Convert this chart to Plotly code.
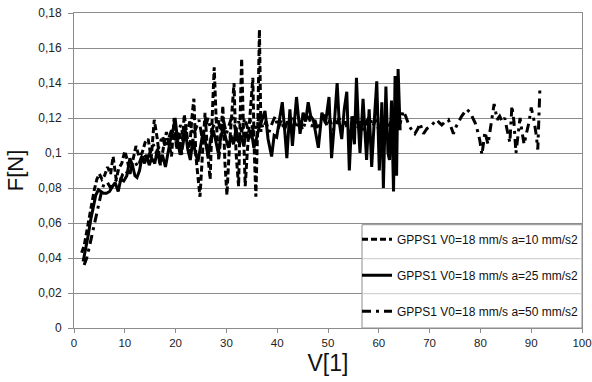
import plotly.graph_objects as go

# ---- data ----
x_a10 = [1.5, 2.0, 2.5, 3.0, 3.5, 4.0, 4.5, 5.0, 5.5, 6.0, 6.6, 7.2, 7.7, 8.3, 8.8, 9.4, 10.0, 10.5, 11.0, 11.6,
         12.2, 12.8, 13.4, 14.0, 14.6, 15.2, 15.8, 16.4, 17.0, 17.6, 18.2, 18.7, 19.2, 19.7, 20.2, 20.7, 21.2, 21.7,
         22.2, 22.7, 23.2, 23.6, 24.0, 24.4, 24.8, 25.3, 25.8, 26.3, 26.8, 27.2, 27.6, 28.0, 28.5, 28.9, 29.3, 29.7,
         30.1, 30.6, 31.0, 31.5, 31.9, 32.4, 32.7, 33.0, 33.4, 33.7, 34.1, 34.5, 34.8, 35.2, 35.5, 35.8, 36.2, 36.5, 36.8]
y_a10 = [0.043, 0.047, 0.055, 0.063, 0.072, 0.079, 0.085, 0.088, 0.085, 0.087, 0.092, 0.088, 0.098, 0.085, 0.091,
         0.094, 0.101, 0.096, 0.088, 0.097, 0.104, 0.098, 0.100, 0.106, 0.108, 0.097, 0.119, 0.108, 0.093, 0.103,
         0.112, 0.105, 0.098, 0.120, 0.102, 0.112, 0.099, 0.122, 0.110, 0.100, 0.120, 0.131, 0.098, 0.085, 0.075,
         0.100, 0.123, 0.100, 0.085, 0.120, 0.149, 0.118, 0.096, 0.110, 0.127, 0.095, 0.076, 0.104, 0.118, 0.140,
         0.100, 0.081, 0.120, 0.154, 0.110, 0.081, 0.100, 0.118, 0.125, 0.143, 0.100, 0.075, 0.120, 0.1705, 0.112]

x_a25 = [1.8, 2.3, 2.8, 3.3, 3.8, 4.3, 4.8, 5.3, 5.8, 6.4, 7.0, 7.6, 8.1, 8.7, 9.2, 9.8, 10.4, 11.0, 11.5, 12.0,
         12.4, 12.9, 13.4, 13.9, 14.3, 14.8, 15.3, 15.9, 16.4, 16.9, 17.4, 18.0, 18.5, 19.0, 19.5, 19.9, 20.4, 20.9,
         21.4, 21.9, 22.4, 22.9, 23.4, 23.9, 24.4, 24.9, 25.4, 25.9, 26.4, 26.9, 27.4, 27.9, 28.4, 28.9, 29.4, 29.9,
         30.4, 30.9, 31.4, 31.9, 32.4, 32.9, 33.4, 33.9, 34.4, 34.9, 35.4, 35.9, 36.4, 36.9, 37.3, 37.6, 38.2, 38.9,
         39.4, 39.9, 40.5, 41.0, 41.5, 41.9, 42.5, 43.0, 43.4, 43.8, 44.2, 44.5, 45.1, 45.6, 46.1, 46.6, 47.1, 47.6,
         48.1, 48.8, 49.5, 50.2, 50.7, 51.2, 51.8, 52.2, 52.7, 53.2, 53.7, 54.2, 54.7, 55.2, 55.6, 56.0, 56.3, 56.9,
         57.3, 57.6, 58.1, 58.6, 59.1, 59.6, 60.1, 60.6, 60.9, 61.4, 61.8, 62.1, 62.5, 62.9, 63.2, 63.5, 63.8, 64.2]
y_a25 = [0.038, 0.045, 0.053, 0.062, 0.070, 0.076, 0.079, 0.078, 0.077, 0.077, 0.078, 0.081, 0.083, 0.078, 0.085,
         0.084, 0.087, 0.097, 0.093, 0.087, 0.086, 0.090, 0.098, 0.094, 0.099, 0.093, 0.097, 0.094, 0.102, 0.094,
         0.099, 0.092, 0.100, 0.108, 0.113, 0.120, 0.107, 0.099, 0.104, 0.113, 0.102, 0.096, 0.108, 0.100, 0.095,
         0.104, 0.112, 0.106, 0.098, 0.108, 0.113, 0.107, 0.100, 0.109, 0.115, 0.108, 0.103, 0.110, 0.105, 0.114,
         0.106, 0.110, 0.104, 0.112, 0.108, 0.113, 0.103, 0.108, 0.114, 0.118, 0.121, 0.124, 0.108, 0.098, 0.110,
         0.109, 0.120, 0.129, 0.112, 0.097, 0.125, 0.104, 0.118, 0.132, 0.120, 0.111, 0.123, 0.118, 0.129, 0.121,
         0.119, 0.112, 0.103, 0.123, 0.117, 0.132, 0.097, 0.115, 0.140, 0.118, 0.108, 0.125, 0.135, 0.090, 0.121,
         0.105, 0.143, 0.115, 0.100, 0.131, 0.112, 0.096, 0.125, 0.092, 0.118, 0.141, 0.090, 0.129, 0.080, 0.138,
         0.100, 0.096, 0.130, 0.078, 0.144, 0.087, 0.148, 0.113]

x_a50 = [2.0, 2.5, 3.0, 3.5, 4.0, 4.5, 5.0, 5.5, 6.0, 6.6, 7.2, 7.8, 8.4, 9.0, 9.6, 10.2, 10.8, 11.4, 12.0, 12.6,
         13.2, 13.8, 14.4, 15.0, 15.6, 16.2, 16.8, 17.4, 18.0, 18.6, 19.2, 19.8, 20.4, 21.0, 21.6, 22.2, 22.8, 23.4,
         24.0, 24.6, 25.2, 25.8, 26.4, 27.0, 27.6, 28.2, 28.8, 29.4, 30.0, 30.6, 31.2, 31.8, 32.4, 33.0, 33.6, 34.2,
         34.8, 35.4, 36.0, 36.6, 37.2, 37.8, 38.4, 39.0, 39.6, 40.2, 40.8, 41.4, 42.0, 42.6, 43.2, 43.8, 44.4, 45.0,
         45.6, 46.2, 46.8, 47.4, 48.0, 48.6, 49.2, 49.8, 50.4, 51.0, 51.6, 52.2, 52.8, 53.4, 54.0, 54.6, 55.2, 55.8,
         56.4, 57.0, 57.6, 58.2, 58.8, 59.4, 60.0, 60.6, 61.2, 61.8, 62.4, 63.0, 63.6, 64.2, 64.8, 65.3, 65.9, 66.5,
         67.1, 67.7, 68.1, 68.8, 69.5, 70.1, 70.8, 71.4, 72.0, 72.4, 73.1, 73.7, 74.2, 74.7, 75.2, 75.7, 76.3, 76.8,
         77.3, 78.0, 78.5, 79.0, 79.5, 79.9, 80.3, 80.9, 81.5, 81.9, 82.3, 82.7, 83.3, 83.8, 84.3, 84.8, 85.2, 85.8,
         86.2, 86.6, 87.0, 87.4, 87.8, 88.2, 88.6, 89.2, 89.6, 90.0, 90.6, 91.0, 91.3, 91.7]
y_a50 = [0.036, 0.040, 0.046, 0.053, 0.060, 0.067, 0.074, 0.079, 0.083, 0.083, 0.080, 0.082, 0.085, 0.083, 0.088,
         0.090, 0.087, 0.092, 0.095, 0.092, 0.097, 0.100, 0.096, 0.101, 0.105, 0.100, 0.104, 0.110, 0.103, 0.108,
         0.113, 0.106, 0.111, 0.116, 0.108, 0.112, 0.118, 0.110, 0.114, 0.119, 0.109, 0.115, 0.120, 0.112, 0.116,
         0.121, 0.113, 0.119, 0.111, 0.117, 0.122, 0.113, 0.118, 0.112, 0.120, 0.114, 0.119, 0.111, 0.117, 0.121,
         0.114, 0.118, 0.112, 0.117, 0.121, 0.114, 0.119, 0.113, 0.118, 0.115, 0.120, 0.114, 0.119, 0.113, 0.118,
         0.121, 0.115, 0.119, 0.113, 0.118, 0.122, 0.115, 0.119, 0.113, 0.117, 0.120, 0.114, 0.118, 0.112, 0.117,
         0.121, 0.114, 0.118, 0.113, 0.118, 0.121, 0.115, 0.119, 0.113, 0.117, 0.120, 0.114, 0.118, 0.112, 0.116,
         0.117, 0.124, 0.121, 0.116, 0.113, 0.111, 0.114, 0.117, 0.111, 0.114, 0.115, 0.117, 0.119, 0.117, 0.116,
         0.118, 0.119, 0.115, 0.111, 0.115, 0.118, 0.121, 0.123, 0.125, 0.123, 0.120, 0.117, 0.112, 0.107, 0.099,
         0.112, 0.105, 0.113, 0.121, 0.128, 0.119, 0.121, 0.118, 0.120, 0.114, 0.106, 0.127, 0.118, 0.100, 0.110,
         0.120, 0.112, 0.105, 0.113, 0.118, 0.126, 0.118, 0.110, 0.102, 0.136]

names = ["GPPS1 V0=18 mm/s a=10 mm/s2", "GPPS1 V0=18 mm/s a=25 mm/s2", "GPPS1 V0=18 mm/s a=50 mm/s2"]

fig = go.Figure()
fig.add_trace(go.Scatter(x=x_a50, y=y_a50, mode="lines", name=names[2], legendgroup="c", legendrank=3,
                         line=dict(color="black", width=3, dash="9px,5px,3px,5px")))
fig.add_trace(go.Scatter(x=x_a25, y=y_a25, mode="lines", name=names[1], legendgroup="b", legendrank=2,
                         line=dict(color="black", width=3)))
fig.add_trace(go.Scatter(x=x_a10, y=y_a10, mode="lines", name=names[0], legendgroup="a", legendrank=1,
                         line=dict(color="black", width=3, dash="6px,3px")))

grey = "#8c8c8c"
# legend box with row separators (Excel style)
lx0 = (362 - 74) / 508
ytop = (328.3 - 225) / 315
fig.add_shape(type="rect", xref="paper", yref="paper", x0=lx0, x1=1, y0=0, y1=ytop,
              fillcolor="white", line=dict(color=grey, width=1), layer="above")
for yy in [(328.3 - 259) / 315, (328.3 - 294) / 315]:
    fig.add_shape(type="line", xref="paper", yref="paper", x0=lx0, x1=1, y0=yy, y1=yy,
                  line=dict(color="#c8c8c8", width=1), layer="above")

fig.update_layout(
    width=592, height=382,
    margin=dict(l=74, r=10, t=13, b=54, autoexpand=False),
    paper_bgcolor="white", plot_bgcolor="white",
    separators=",.",
    font=dict(family="Liberation Sans, Arial", color="#222222", size=12),
    showlegend=True,
    legend=dict(x=(357 - 74) / 508, y=ytop, xanchor="left", yanchor="top", bgcolor="rgba(0,0,0,0)",
                borderwidth=0, font=dict(size=12, color="#111111"), traceorder="grouped",
                tracegroupgap=17, itemwidth=30),
    xaxis=dict(range=[0, 100], dtick=10, showgrid=False, showline=True, linecolor=grey, mirror=True,
               ticks="outside", ticklen=4, tickcolor=grey, zeroline=False, tickfont=dict(size=11.5),
               ticklabeloverflow="allow",
               title=dict(text="V[1]", font=dict(size=23, color="#111111"), standoff=7)),
    yaxis=dict(range=[0, 0.18], dtick=0.02, showgrid=True, gridcolor=grey, gridwidth=1, showline=True,
               linecolor=grey, mirror=True, ticks="outside", ticklen=5, tickcolor=grey, zeroline=False,
               ticklabelstandoff=4,
               title=dict(text="F[N]", font=dict(size=22, color="#111111"), standoff=8)),
)

fig.write_html("out.html")
